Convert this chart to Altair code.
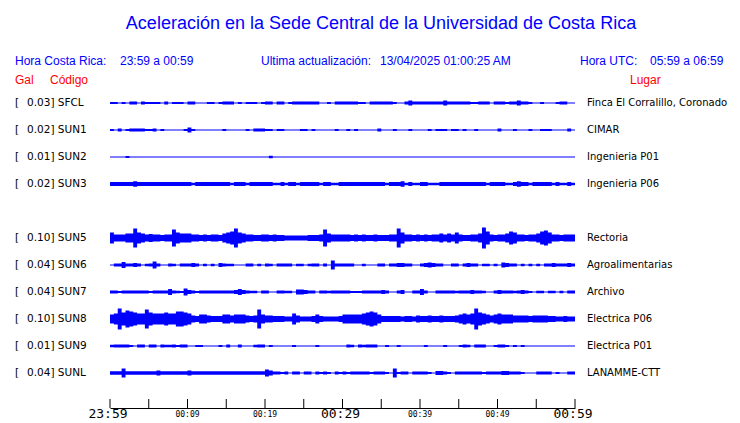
import altair as alt
import pandas as pd

# ---------------- data ----------------
codes = ["SFCL", "SUN1", "SUN2", "SUN3", "SUN5", "SUN6", "SUN7", "SUN8", "SUN9", "SUNL"]
gals = ["0.03", "0.02", "0.01", "0.02", "0.10", "0.04", "0.04", "0.10", "0.01", "0.04"]
places = ["Finca El Corralillo, Coronado", "CIMAR", "Ingenieria P01", "Ingenieria P06",
          "Rectoria", "Agroalimentarias", "Archivo", "Electrica P06", "Electrica P01",
          "LANAMME-CTT"]
row_slot = [0, 1, 2, 3, 5, 6, 7, 8, 9, 10]  # SUN4 row is empty

# envelope half-amplitude per 30-second bin (120 bins over the hour)
env_SFCL = [0.5, 0.5, 0, 0.5, 0, 1, 1, 0, 1, 0.5,
            0.5, 0.5, 0.5, 0, 1, 0, 0.5, 0.5, 0.5, 0,
            1, 1, 0, 0, 0, 0.5, 0.5, 0, 0.5, 1,
            1, 1, 0, 0.5, 0, 0.5, 0.5, 0.5, 0, 0.5,
            1, 1, 0, 1, 1, 0, 0.5, 1, 1, 1,
            1, 1, 1, 1, 0, 0, 0.5, 0, 1, 1,
            1, 1, 1, 1, 0.5, 0.5, 0, 1, 1, 1,
            1, 1, 1, 0.5, 0, 0, 1, 2, 1, 1,
            1, 1, 1, 1, 1, 1, 2, 1, 1, 1,
            1, 1, 1, 0.5, 0.5, 1, 1, 1, 0, 1,
            1, 1, 0.5, 1, 1, 2, 1, 1, 0.5, 0,
            0, 0.5, 0, 0, 0, 0.5, 1, 1, 0, 0]
env_SUN1 = [0.5, 0, 1, 0, 0.5, 1, 1, 1, 1, 0.5,
            0.5, 1, 0, 0.5, 0, 0, 0, 0, 0, 0.5,
            2, 0.5, 0, 0, 0, 0, 0, 0, 0, 0.5,
            0, 0, 0, 0, 0, 0.5, 0, 1, 1, 1,
            0.5, 0.5, 0, 0.5, 0.5, 0, 0, 0, 0, 0.5,
            0.5, 0, 0.5, 0, 0, 0, 0, 0, 0.5, 0,
            0, 0.5, 0, 0.5, 0, 0, 0, 0, 0, 1,
            0, 0, 0, 0.5, 0, 0, 0, 0.5, 0, 0,
            0, 0, 0.5, 0, 0.5, 0.5, 0.5, 0, 0.5, 0.5,
            0, 0.5, 0, 0, 0.5, 0, 0, 0, 0, 0,
            1, 0, 0, 0, 0.5, 0, 0, 0, 0.5, 0,
            0, 0.5, 0.5, 0.5, 0, 0, 0, 0, 1, 0]
env_SUN2 = [0, 0, 0, 0, 0.5, 0, 0, 0, 0, 0,
            0, 0, 0, 0, 0, 0, 0, 0, 0, 0,
            0, 0, 0, 0, 0, 0, 0, 0, 0, 0,
            0, 0, 0, 0, 0, 0, 0, 0, 0, 0,
            0, 0.7, 0, 0, 0, 0, 0, 0, 0, 0,
            0, 0, 0, 0, 0, 0, 0, 0, 0, 0,
            0, 0, 0, 0, 0, 0, 0, 0, 0, 0,
            0, 0, 0, 0, 0, 0, 0, 0, 0, 0,
            0, 0, 0, 0, 0, 0, 0, 0, 0, 0,
            0, 0, 0, 0, 0, 0, 0, 0, 0, 0,
            0, 0, 0, 0, 0, 0, 0, 0, 0, 0,
            0, 0, 0, 0, 0, 0, 0, 0, 0, 0]
env_SUN3 = [1.3, 1.3, 1.3, 1.3, 1.3, 1.3, 2.2, 1.3, 1.3, 1.3,
            1.3, 1.3, 1.3, 1.3, 1.3, 1.3, 1.3, 1.3, 1.3, 1.3,
            1.3, 0.6, 1.3, 1.3, 1.3, 1.3, 1.3, 1.3, 1.3, 1.3,
            1.3, 0.6, 1.3, 1.3, 1.3, 0.6, 1.3, 1.3, 1.3, 1.3,
            1.3, 1.3, 0.6, 0.6, 1.3, 0.6, 1.3, 1.3, 0.6, 1.3,
            1.3, 1.3, 1.3, 1.3, 0.6, 1.3, 1.3, 0.6, 0.6, 1.3,
            1.3, 1.3, 1.3, 1.3, 1.3, 1.3, 1.3, 1.3, 1.3, 1.3,
            1.3, 0.6, 1.3, 1.3, 1.3, 2.2, 0.6, 1.3, 0.6, 0.6,
            1.3, 1.3, 0.6, 0.6, 0.6, 1.3, 1.3, 1.3, 1.3, 1.3,
            1.3, 1.3, 1.3, 1.3, 1.3, 1.3, 1.3, 0.6, 1.3, 1.3,
            1.3, 1.3, 0.6, 0.6, 1.3, 2.2, 1.3, 1.3, 0.6, 1.3,
            1.3, 1.3, 1.3, 1.3, 0.6, 1.3, 0.6, 0.6, 1.3, 0.6]
env_SUN5 = [5, 3, 3, 3, 4, 4, 9, 5, 4, 3,
            3.5, 3, 3, 2.5, 3, 3, 8, 5, 4, 4,
            4, 3, 3, 2.5, 3, 2.5, 3, 3, 2.5, 4,
            5, 6, 9, 5, 4, 3, 3, 2.5, 2.5, 3,
            3, 2.5, 3, 2.5, 2.5, 2, 2, 2, 2, 2,
            2, 2.5, 2.5, 2.5, 3, 8, 4, 3, 3, 3,
            3, 3, 2.5, 3, 2.5, 3, 2.5, 2.5, 3, 2.5,
            2.5, 2.5, 3, 3, 9, 5, 3, 3, 2.5, 3,
            2.5, 3, 2.5, 3, 3, 4, 3, 4, 3, 5,
            3, 2.5, 2.5, 3, 3, 4, 10, 6, 3, 2.5,
            3, 3, 4, 6, 5, 3, 3, 2.5, 3, 3,
            4, 6, 7, 5, 3, 3, 2.5, 3, 3, 3]
env_SUN6 = [0, 1, 1, 2.5, 1, 1, 1.5, 1, 0, 0.7,
            1, 3, 1, 0, 0, 1, 0.7, 0, 1, 1,
            1, 1.5, 1, 0, 0.7, 0, 0.7, 0, 1.5, 1,
            0.7, 0.7, 0, 0, 0, 1, 1, 0, 0.7, 0,
            1, 0.7, 0, 1, 1, 1, 1, 0, 0.7, 0.7,
            0, 0.7, 1, 1, 0, 1, 0, 4, 1, 1,
            1, 1, 1, 0, 0, 0.7, 0, 0, 0, 1,
            1, 0, 1, 1, 1.5, 1.5, 1, 1, 0, 0,
            1, 1.5, 2, 1.5, 1, 1, 0, 0, 1, 1,
            0, 1, 1.5, 1, 1, 0, 0.7, 0.7, 0, 0.7,
            0, 2, 1.5, 1, 1, 0, 0.7, 0, 0.7, 0,
            0.7, 0, 1, 1, 1.5, 1, 1, 1, 1.5, 1]
env_SUN7 = [1, 1, 0.5, 1, 1, 1, 1, 1, 1, 1,
            0.5, 1, 1, 1, 1, 2.5, 1, 0.7, 0.5, 3,
            1.5, 1, 0.5, 1, 1, 1, 1, 1, 1, 1,
            1, 1, 1.5, 2.5, 1.5, 1, 0.7, 0.7, 0, 1,
            1, 0, 0, 1, 1, 0.7, 0.7, 0, 2, 2,
            1.5, 1, 1, 0, 1, 1, 0.7, 1, 1, 1,
            1, 1, 0.5, 0.5, 0.5, 1, 1, 1, 1, 1,
            1.5, 1, 0, 0, 1, 1.5, 0, 0, 1, 1,
            2.5, 1, 0, 0, 1, 1, 1, 1, 1, 0.7,
            1, 1, 1, 1.5, 1, 1, 0.7, 0, 0, 1,
            1.5, 1, 1, 1, 0.7, 1, 1.5, 1, 0.5, 0,
            0.7, 0.7, 0, 0.7, 0.7, 0, 0.7, 0, 1, 1]
env_SUN8 = [4, 5, 10, 6, 8, 7, 6, 5, 5, 9,
            6, 5, 5, 5, 6, 5, 5, 7, 7, 6,
            5, 3, 2.5, 4, 4, 3, 2.5, 2.5, 2.5, 4,
            4, 3, 4, 4, 4, 3, 2.5, 3, 9, 4,
            3, 3, 2.5, 2.5, 2.5, 2, 2, 5, 3, 2,
            2, 2, 2.5, 4, 2.5, 2, 2, 2, 2, 2.5,
            4, 4, 4, 4, 4, 5, 6, 7, 6, 4,
            2.5, 2.5, 2.5, 2.5, 2.5, 2, 2.5, 2.5, 2, 3,
            2.5, 2.5, 3, 2.5, 2.5, 3, 2.5, 2.5, 2.5, 3,
            4, 5, 4, 5, 10, 6, 5, 4, 3, 4,
            5, 4, 4, 4, 3, 3, 3, 3, 2.5, 3,
            3, 3, 3, 2.5, 2.5, 2, 2, 2.5, 2, 2]
env_SUN9 = [0.7, 1, 1, 1, 1, 0.5, 0, 1, 1, 0,
            1, 1, 0, 1, 0.7, 0.7, 1, 0.5, 1, 1,
            0, 0, 0.5, 0.5, 0, 0, 0, 0, 0.5, 0,
            1, 0, 0, 1, 0, 0, 0, 0.7, 1, 1,
            0, 0.5, 0, 0, 0, 0, 0, 0.5, 0, 0,
            0, 0, 0, 0.5, 0, 0, 0, 0, 0, 0,
            0, 1, 0.7, 0, 1, 0.7, 1, 1, 1, 0,
            0, 0.5, 0, 0, 0.5, 0, 0, 0, 0, 0,
            0, 0.5, 0, 0, 0, 0, 0.5, 0, 0, 0,
            0.5, 1, 0.7, 0, 1, 1, 1, 0, 0, 0.5,
            1, 1, 0.5, 0, 0.5, 0, 0.5, 0, 0, 0,
            0, 0, 0, 0, 0, 0, 0, 0, 0, 0]
env_SUNL = [1.2, 1.2, 1.2, 4, 1.2, 1.2, 1.2, 1.2, 1.2, 1.2,
            1.2, 1.2, 2, 1.2, 1.2, 1.2, 1.2, 1.2, 1.2, 1.2,
            2, 1.2, 1.2, 1.2, 1.2, 1.2, 1.2, 1.2, 1.2, 1.2,
            1.2, 1.2, 1.2, 1.2, 1.2, 1.2, 1.2, 1.2, 1.2, 1.2,
            3, 2, 1, 1, 0.5, 1, 0, 1, 1, 0,
            1, 1, 0, 1, 0.5, 1, 0.5, 0, 1, 0.5,
            1, 0.5, 1, 1, 1, 1, 1, 0.5, 1, 1,
            1, 0.5, 0, 4, 0.5, 1, 1, 0, 1, 1,
            1, 1, 0.5, 0, 1.5, 1.5, 1, 0.5, 0, 1,
            1, 1, 1, 1, 1, 1, 0.5, 1, 1, 1,
            1, 1.5, 1.5, 1, 1, 1, 0.5, 0, 0, 0,
            1, 1, 1, 1, 0, 0.5, 0, 0, 1, 1]

envelopes = [env_SFCL, env_SUN1, env_SUN2, env_SUN3, env_SUN5,
             env_SUN6, env_SUN7, env_SUN8, env_SUN9, env_SUNL]

tick_minutes = [0, 5, 10, 15, 20, 25, 30, 35, 40, 45, 50, 55, 60]
major_minutes = [0, 30, 60]
major_labels = ["23:59", "00:29", "00:59"]
minor_minutes = [10, 20, 40, 50]
minor_labels = ["00:09", "00:19", "00:39", "00:49"]

title = "Aceleración en la Sede Central de la Universidad de Costa Rica"

# ---------------- build tables ----------------
ROW = 27          # px between traces
BIN = 0.5         # minutes per bin
HALF_LINE = 0.6   # half thickness of the trace line

rows = []
for code, slot, env in zip(codes, row_slot, envelopes):
    base = slot * ROW
    pts = list(enumerate(env)) + [(len(env), env[-1])]
    for i, a in pts:
        rows.append({"code": code, "t": i * BIN,
                     "lo": base - HALF_LINE - a, "hi": base + HALF_LINE + a})
trace_df = pd.DataFrame(rows)

label_df = pd.DataFrame({"code": codes, "gal": gals, "place": places,
                         "ypos": [s * ROW for s in row_slot]})
label_df["left"] = label_df["gal"] + "] " + label_df["code"]
label_df["br"] = "["

xscale = alt.Scale(domain=[0, 60], nice=False, zero=False)
yscale = alt.Scale(domain=[-15, 305], reverse=True, nice=False, zero=False)
xaxis = alt.Axis(domain=True, ticks=False, labels=False, grid=False, title=None,
                 domainColor="black", domainWidth=1)

BLUE = "#0000ff"

traces = alt.Chart(trace_df).mark_area(interpolate="step-after", color=BLUE).encode(
    x=alt.X("t:Q", scale=xscale, axis=xaxis),
    y=alt.Y("lo:Q", scale=yscale, axis=None),
    y2="hi:Q",
    detail="code:N",
)

ticks = alt.Chart(pd.DataFrame({"m": tick_minutes})).mark_rule(color="black", strokeWidth=1).encode(
    x=alt.X("m:Q", scale=xscale, axis=xaxis),
    y=alt.value(311), y2=alt.value(320),
)

major = alt.Chart(pd.DataFrame({"m": major_minutes, "s": major_labels})).mark_text(
    font="DejaVu Sans Mono", fontSize=13, color="black", align="center", baseline="alphabetic", dx=-2
).encode(x=alt.X("m:Q", scale=xscale, axis=xaxis), y=alt.value(330), text="s:N")

minor = alt.Chart(pd.DataFrame({"m": minor_minutes, "s": minor_labels})).mark_text(
    font="DejaVu Sans Mono", fontSize=8, color="black", align="center", baseline="alphabetic"
).encode(x=alt.X("m:Q", scale=xscale, axis=xaxis), y=alt.value(329), text="s:N")

left_br = alt.Chart(label_df).mark_text(
    font="DejaVu Sans", fontSize=10.5, color="black", align="left", baseline="middle"
).encode(x=alt.value(-95), y=alt.Y("ypos:Q", scale=yscale, axis=None), text="br:N")

left_lab = alt.Chart(label_df).mark_text(
    font="DejaVu Sans", fontSize=10.5, color="black", align="left", baseline="middle"
).encode(x=alt.value(-83), y=alt.Y("ypos:Q", scale=yscale, axis=None), text="left:N")

right_lab = alt.Chart(label_df).mark_text(
    font="DejaVu Sans", fontSize=10, color="black", align="left", baseline="middle"
).encode(x=alt.value(477), y=alt.Y("ypos:Q", scale=yscale, axis=None), text="place:N")


def static_text(s, x, y, color, size, align="left", font="Liberation Sans"):
    return alt.Chart(pd.DataFrame({"s": [s]})).mark_text(
        font=font, fontSize=size, color=color, align=align, baseline="alphabetic"
    ).encode(x=alt.value(x), y=alt.value(y), text="s:N")


RED = "#ff0000"
headers = [
    static_text(title, 271, -59, BLUE, 18, align="center"),
    static_text("Hora Costa Rica:", -95, -23, BLUE, 12),
    static_text("23:59 a 00:59", 10, -23, BLUE, 12),
    static_text("Ultima actualización:", 151, -23, BLUE, 12),
    static_text("13/04/2025 01:00:25 AM", 270, -23, BLUE, 12),
    static_text("Hora UTC:", 470, -23, BLUE, 12),
    static_text("05:59 a 06:59", 540, -23, BLUE, 12),
    static_text("Gal", -95, -4, RED, 12),
    static_text("Código", -60, -4, RED, 12),
    static_text("Lugar", 520, -4, RED, 12),
]

chart = alt.layer(traces, ticks, major, minor, left_br, left_lab, right_lab, *headers).properties(
    width=465, height=320,
    autosize=alt.AutoSizeParams(type="none"),
    padding={"left": 102, "top": 80, "right": 157, "bottom": 15},
    background="white",
).configure_view(stroke=None)

chart.save("out.html", embed_options={"renderer": "svg", "actions": False})
